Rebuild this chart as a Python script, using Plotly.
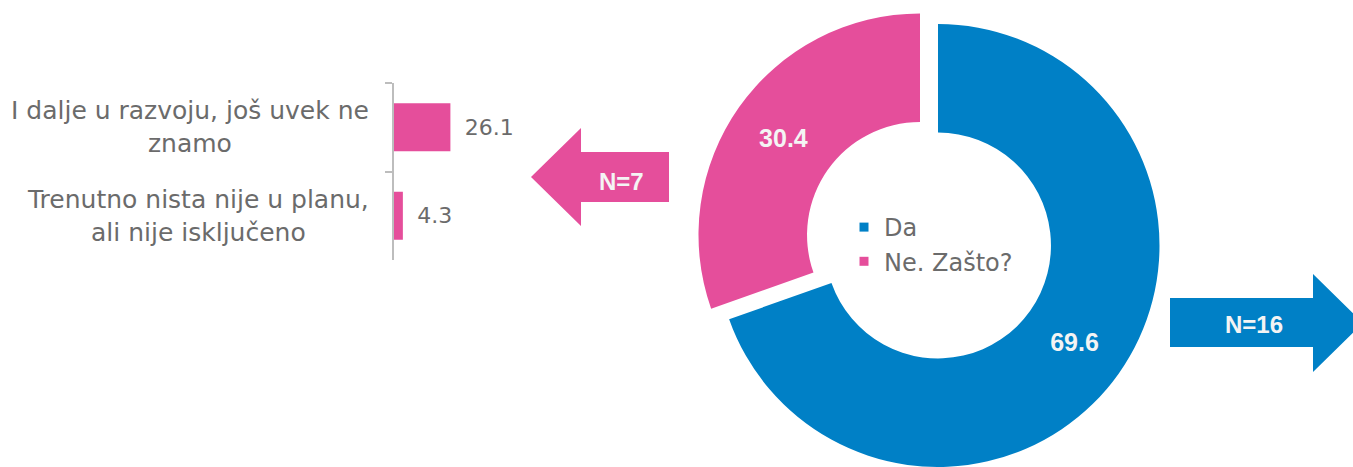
import plotly.graph_objects as go

W, H = 1353, 467

# ---------------- data ----------------
pie_labels = ["Da", "Ne. Zašto?"]
pie_values = [69.6, 30.4]
bar_categories = ["I dalje u razvoju, još uvek ne<br>znamo",
                  "Trenutno nista nije u planu,<br>ali nije isključeno"]
bar_values = [26.1, 4.3]
arrow_labels = ["N=7", "N=16"]

# ---------------- styles ----------------
BLUE = "#0080C6"
PINK = "#E54E9B"
GREY = "#6B6B6B"
AXIS_GREY = "#BDBDBD"
WHITE_TXT = "#F4F4F4"
FONT = "DejaVu Sans"
BOLD_FONT = "Liberation Sans"


def px(x):
    return x / W


def py(y):
    return 1 - y / H


fig = go.Figure()

# ---------------- bar chart (left) ----------------
fig.add_trace(go.Bar(
    y=bar_categories, x=bar_values, orientation="h",
    marker=dict(color=PINK, line=dict(width=0)), width=0.54,
    text=[f"\u00a0\u2009{v:.1f}" for v in bar_values], textposition="outside",
    textfont=dict(family=FONT, size=22, color=GREY),
    constraintext="none", cliponaxis=False,
    showlegend=False, hoverinfo="skip",
))

# ---------------- donut (right) ----------------
R = 221.5


def domain_for(cx, cy):
    return dict(x=[max(0, px(cx - R)), min(1, px(cx + R))],
                y=[max(0, py(cy + R)), min(1, py(cy - R))])


HOLE = 0.51
# "Da" slice
fig.add_trace(go.Pie(
    labels=pie_labels, values=pie_values, sort=False, direction="clockwise",
    rotation=0, hole=HOLE,
    marker=dict(colors=[BLUE, "rgba(0,0,0,0)"], line=dict(width=0)),
    textinfo="text", text=[f"{pie_values[0]:.1f}", ""],
    textposition="inside", insidetextorientation="horizontal",
    textfont=dict(family=BOLD_FONT, size=25, color=WHITE_TXT, weight="bold"),
    showlegend=False, hoverinfo="skip",
    domain=domain_for(938, 245.5),
))
# "Ne. Zašto?" slice (exploded)
fig.add_trace(go.Pie(
    labels=pie_labels, values=pie_values, sort=False, direction="clockwise",
    rotation=0, hole=HOLE,
    marker=dict(colors=["rgba(0,0,0,0)", PINK], line=dict(width=0)),
    textinfo="text", text=["", f"{pie_values[1]:.1f}"],
    textposition="inside", insidetextorientation="horizontal",
    textfont=dict(family=BOLD_FONT, size=25, color=WHITE_TXT, weight="bold"),
    showlegend=False, hoverinfo="skip",
    domain=domain_for(920, 235),
))

# legend entries for the donut
for lab, col, grp in zip(pie_labels, [BLUE, PINK], ["a", "b"]):
    fig.add_trace(go.Scatter(
        x=[None], y=[None], mode="markers", name=lab, legendgroup=grp,
        marker=dict(symbol="square", size=9, color=col),
        xaxis="x2", yaxis="y2", hoverinfo="skip",
    ))

# ---------------- annotations ----------------
annotations = []
for cat in bar_categories:
    annotations.append(dict(
        x=px(371), xref="paper", y=cat, yref="y", xanchor="right", yanchor="middle",
        text=cat, align="center", showarrow=False,
        font=dict(family=FONT, size=25, color=GREY),
    ))

annotations.append(dict(x=px(621), y=py(181), xref="paper", yref="paper",
                        xanchor="center", yanchor="middle",
                        text=arrow_labels[0], showarrow=False,
                        font=dict(family=BOLD_FONT, size=24, color=WHITE_TXT, weight="bold")))
annotations.append(dict(x=px(1254), y=py(324), xref="paper", yref="paper",
                        xanchor="center", yanchor="middle",
                        text=arrow_labels[1], showarrow=False,
                        font=dict(family=BOLD_FONT, size=24, color=WHITE_TXT, weight="bold")))


def path(points):
    s = "M " + " L ".join(f"{px(x):.5f},{py(y):.5f}" for x, y in points) + " Z"
    return s


shapes = [
    dict(type="path", xref="paper", yref="paper", line=dict(width=0), fillcolor=PINK,
         path=path([(531, 177), (581, 128), (581, 152), (669, 152),
                    (669, 202), (581, 202), (581, 226)])),
    dict(type="path", xref="paper", yref="paper", line=dict(width=0), fillcolor=BLUE,
         path=path([(1170, 298), (1313, 298), (1313, 274), (1363, 323),
                    (1313, 372), (1313, 347), (1170, 347)])),
]

PX_PER_UNIT = 2.18
XMAX = 60
x0 = 393.5

fig.update_layout(
    width=W, height=H,
    margin=dict(l=0, r=0, t=0, b=0),
    paper_bgcolor="white", plot_bgcolor="white",
    xaxis=dict(domain=[px(x0), px(x0 + XMAX * PX_PER_UNIT)], range=[0, XMAX],
               visible=False, fixedrange=True),
    yaxis=dict(domain=[py(260), py(83)], type="category", range=[1.5, -0.5],
               showline=True, linecolor=AXIS_GREY, linewidth=1.5,
               ticks="outside", ticklen=7, tickwidth=1.5, tickcolor=AXIS_GREY,
               tickson="boundaries", showticklabels=False,
               showgrid=False, zeroline=False, fixedrange=True),
    xaxis2=dict(domain=[0.99, 1], visible=False, anchor="y2"),
    yaxis2=dict(domain=[0.99, 1], visible=False, anchor="x2"),
    legend=dict(x=px(844), y=py(205), xanchor="left", yanchor="top",
                bgcolor="rgba(0,0,0,0)", borderwidth=0,
                font=dict(family=FONT, size=24, color=GREY),
                traceorder="normal", itemclick=False, itemdoubleclick=False),
    annotations=annotations,
    shapes=shapes,
    bargap=0.46,
)

fig.write_html("out.html",
               config={"displayModeBar": False},
               post_script="document.body.style.margin='0';document.body.style.overflow='hidden';")
